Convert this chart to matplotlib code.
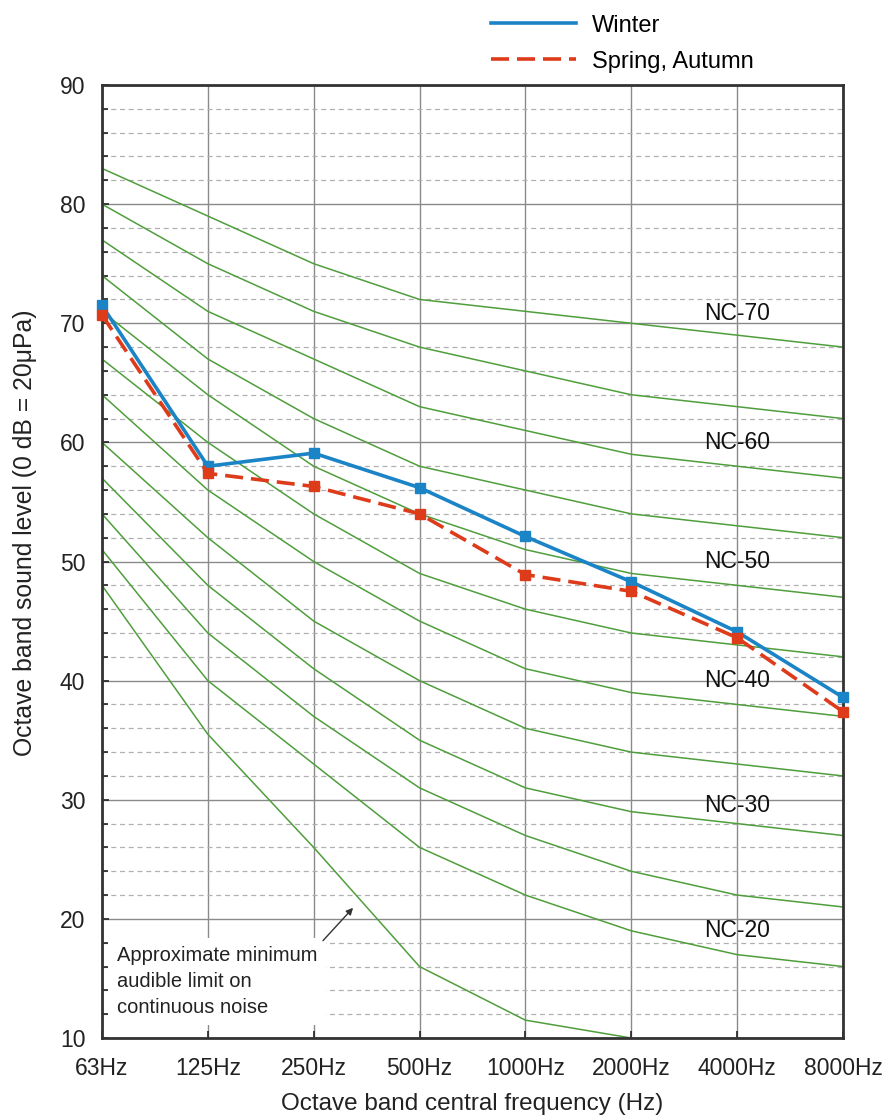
import matplotlib
matplotlib.use("Agg")
import matplotlib.pyplot as plt
from matplotlib.lines import Line2D
from matplotlib.ticker import MultipleLocator

plt.rcParams['font.family'] = ['Liberation Sans', 'DejaVu Sans']

freq_labels = ["63Hz", "125Hz", "250Hz", "500Hz", "1000Hz", "2000Hz", "4000Hz", "8000Hz"]

# NC curves (dB) at each octave band
nc70 = [83, 79, 75, 72, 71, 70, 69, 68]
nc65 = [80, 75, 71, 68, 66, 64, 63, 62]
nc60 = [77, 71, 67, 63, 61, 59, 58, 57]
nc55 = [74, 67, 62, 58, 56, 54, 53, 52]
nc50 = [71, 64, 58, 54, 51, 49, 48, 47]
nc45 = [67, 60, 54, 49, 46, 44, 43, 42]
nc40 = [64, 56, 50, 45, 41, 39, 38, 37]
nc35 = [60, 52, 45, 40, 36, 34, 33, 32]
nc30 = [57, 48, 41, 35, 31, 29, 28, 27]
nc25 = [54, 44, 37, 31, 27, 24, 22, 21]
nc20 = [51, 40, 33, 26, 22, 19, 17, 16]
audible_limit = [48, 35.5, 26, 16, 11.5, 10]

winter = [71.5, 58.0, 59.1, 56.2, 52.1, 48.3, 44.1, 38.6]
spring_autumn = [70.7, 57.4, 56.3, 54.0, 48.9, 47.5, 43.6, 37.4]

nc_label_texts = ["NC-70", "NC-60", "NC-50", "NC-40", "NC-30", "NC-20"]
nc_label_values = [70.8, 60.0, 50.0, 40.0, 29.5, 19.0]

fig = plt.figure(figsize=(8.89, 11.2), dpi=100)
ax = fig.add_axes([0.1147, 0.0732, 0.8335, 0.8509])

x = list(range(len(freq_labels)))
green = "#4f9e3c"
for curve in [nc70, nc65, nc60, nc55, nc50, nc45, nc40, nc35, nc30, nc25, nc20]:
    ax.plot(x, curve, color=green, lw=1.1, zorder=2)
ax.plot(x[:len(audible_limit)], audible_limit, color=green, lw=1.1, zorder=2, clip_on=True)

blue = "#1b84c6"
red = "#dd3b1a"
ax.plot(x, winter, color=blue, lw=2.6, marker="s", ms=7, mec=blue, mfc=blue, zorder=5, clip_on=False)
ax.plot(x, spring_autumn, color=red, lw=2.6, ls=(0, (5, 2.2)), marker="s", ms=7, mec=red, mfc=red,
        zorder=6, clip_on=False)

ax.set_xlim(0, 7)
ax.set_ylim(10, 90)
ax.set_xticks(x)
ax.set_xticklabels(freq_labels)
ax.yaxis.set_major_locator(MultipleLocator(10))
ax.yaxis.set_minor_locator(MultipleLocator(2))

ax.grid(True, which="major", axis="both", color="#8a8a8a", lw=1.0, zorder=1)
ax.grid(True, which="minor", axis="y", color="#b0b0b0", lw=0.9, ls=(0, (4, 3)), zorder=1)
ax.set_axisbelow(True)

ax.tick_params(axis="both", which="major", direction="in", length=5, width=1.2, labelsize=16.5,
               colors="#222222")
ax.tick_params(axis="y", which="major", pad=12)
ax.tick_params(axis="y", which="minor", direction="in", length=4, width=1.2, colors="#222222")
ax.tick_params(axis="x", which="major", pad=14)
for s in ax.spines.values():
    s.set_color("#333333")
    s.set_linewidth(2.0)

ax.set_xlabel("Octave band central frequency (Hz)", fontsize=17.5, color="#222222")
ax.xaxis.set_label_coords(0.5, -0.058)
ax.set_ylabel("Octave band sound level (0 dB = 20μPa)", fontsize=17.8, color="#222222")
ax.yaxis.set_label_coords(-0.088, 0.53)

for t, v in zip(nc_label_texts, nc_label_values):
    ax.text(6, v, t, fontsize=16.5, color="#111111", ha="center", va="center", zorder=4)

ax.text(0.14, 17.7, "Approximate minimum\naudible limit on\ncontinuous noise", fontsize=14.5,
        color="#222222", ha="left", va="top", linespacing=1.45, zorder=3,
        bbox=dict(facecolor="white", edgecolor="none", pad=6))
ax.annotate("", xy=(2.39, 21.1), xytext=(2.07, 18.0),
            arrowprops=dict(arrowstyle="-|>", color="#333333", lw=1.0, mutation_scale=10), zorder=4)

handles = [Line2D([0], [0], color=blue, lw=2.6),
           Line2D([0], [0], color=red, lw=2.6, ls=(0, (5, 2.2)))]
fig.legend(handles, ["Winter", "Spring, Autumn"], loc="upper left", bbox_to_anchor=(0.528, 1.006),
           frameon=False, fontsize=17, handlelength=3.6, handletextpad=0.7, labelspacing=0.6)

fig.savefig("out.png", dpi=100)
